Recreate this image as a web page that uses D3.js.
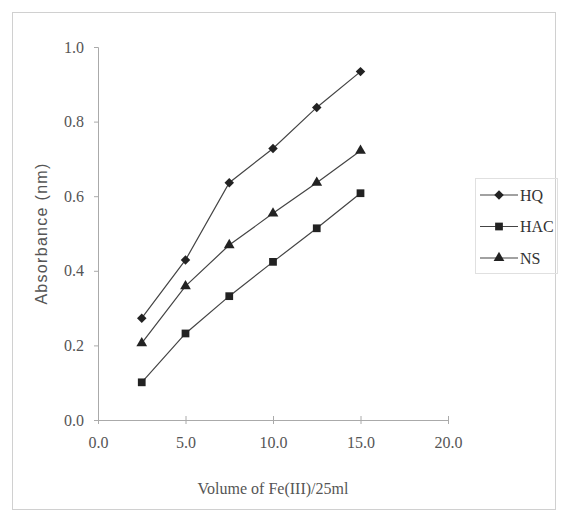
<!DOCTYPE html>
<html>
<head>
<meta charset="utf-8">
<script src="https://cdn.jsdelivr.net/npm/d3@7"></script>
<style>
  body { margin: 0; background: #fff; }
  .axis line, .axis path { stroke: #aaa; }
  .title { font-family: "Liberation Serif", "Times New Roman", serif; font-size: 16px; fill: #555; }
  .y-title { font-family: "Liberation Sans", Arial, sans-serif; font-size: 16px; letter-spacing: 1.3px; fill: #555; }
  .legend text { font-family: "Liberation Serif", "Times New Roman", serif; font-size: 16px; fill: #333; }
</style>
</head>
<body>
<div id="chart"></div>
<script>
// Données
var volumes = [2.5, 5.0, 7.5, 10.0, 12.5, 15.0];
var seriesNames = ["HQ", "HAC", "NS"];
var hq  = [0.273, 0.429, 0.636, 0.728, 0.838, 0.934];
var hac = [0.101, 0.232, 0.332, 0.424, 0.514, 0.608];
var ns  = [0.206, 0.359, 0.469, 0.554, 0.636, 0.722];
var xTicks = [0, 5, 10, 15, 20];
var yTicks = [0, 0.2, 0.4, 0.6, 0.8, 1.0];

var W = 563, H = 524;
var margin = { top: 47, left: 98, right: 115, bottom: 104 };
var width = W - margin.left - margin.right,
    height = H - margin.top - margin.bottom;

var root = d3.select("#chart").append("svg")
  .attr("width", W)
  .attr("height", H);

// cadre extérieur
root.append("rect")
  .attr("x", 12.5).attr("y", 12.5)
  .attr("width", 543).attr("height", 497)
  .attr("fill", "none")
  .attr("stroke", "#d0d0d0");

var svg = root.append("g")
  .attr("transform", "translate(" + margin.left + "," + margin.top + ")");

var x = d3.scaleLinear().domain([0, 20]).range([0, width]);
var y = d3.scaleLinear().domain([0, 1]).range([height, 0]);

var yAxis = d3.axisLeft(y)
  .tickValues(yTicks)
  .tickSize(4)
  .tickPadding(10)
  .tickFormat(d3.format(".1f"));

svg.append("g")
  .attr("class", "axis y-axis")
  .call(yAxis)
  .attr("font-family", "'Liberation Serif', 'Times New Roman', serif")
  .attr("font-size", 16);

var xAxis = d3.axisBottom(x)
  .tickValues(xTicks)
  .tickSize(4)
  .tickPadding(13)
  .tickFormat(d3.format(".1f"));

svg.append("g")
  .attr("class", "axis x-axis")
  .attr("transform", "translate(0," + height + ")")
  .call(xAxis)
  .attr("font-family", "'Liberation Serif', 'Times New Roman', serif")
  .attr("font-size", 16);

svg.selectAll(".axis text").attr("fill", "#555");

// ticks qui traversent l'axe x
svg.selectAll(".x-axis .tick line").attr("y1", -4).attr("y2", 4);

// Titres
svg.append("text")
  .attr("class", "title")
  .attr("text-anchor", "middle")
  .attr("x", x(10))
  .attr("y", height + 74)
  .text("Volume of Fe(III)/25ml");

svg.append("text")
  .attr("class", "y-title")
  .attr("text-anchor", "middle")
  .attr("transform", "translate(-51," + y(0.5) + ") rotate(-90)")
  .text("Absorbance (nm)");

// Séries
var diamond = {
  draw: function(ctx, size) {
    var r = Math.sqrt(size / 2);
    ctx.moveTo(0, -r); ctx.lineTo(r, 0); ctx.lineTo(0, r); ctx.lineTo(-r, 0); ctx.closePath();
  }
};

var series = [
  { name: seriesNames[0], values: hq,  symbol: diamond,          size: 45 },
  { name: seriesNames[1], values: hac, symbol: d3.symbolSquare,   size: 60 },
  { name: seriesNames[2], values: ns,  symbol: d3.symbolTriangle, size: 50 }
];

var line = d3.line()
  .x(function(d, i) { return x(volumes[i]); })
  .y(function(d) { return y(d); });

series.forEach(function(s) {
  svg.append("path")
    .datum(s.values)
    .attr("d", line)
    .attr("fill", "none")
    .attr("stroke", "#444")
    .attr("stroke-width", 1.2);

  svg.selectAll(".pt-" + s.name)
    .data(s.values)
    .enter().append("path")
    .attr("class", "pt-" + s.name)
    .attr("transform", function(d, i) {
      return "translate(" + x(volumes[i]) + "," + y(d) + ")";
    })
    .attr("d", d3.symbol().type(s.symbol).size(s.size))
    .attr("fill", "#222");
});

// Légende
var legend = root.append("g")
  .attr("class", "legend")
  .attr("transform", "translate(475,178)");

legend.append("rect")
  .attr("x", 0.5).attr("y", 0.5)
  .attr("width", 82).attr("height", 95)
  .attr("fill", "none")
  .attr("stroke", "#e0e0e0");

series.forEach(function(s, i) {
  var g = legend.append("g")
    .attr("transform", "translate(0," + (17 + i * 31.5) + ")");
  g.append("line")
    .attr("x1", 5).attr("x2", 43)
    .attr("stroke", "#444")
    .attr("stroke-width", 1.2);
  g.append("path")
    .attr("transform", "translate(24,0)")
    .attr("d", d3.symbol().type(s.symbol).size(s.size))
    .attr("fill", "#222");
  g.append("text")
    .attr("x", 45)
    .attr("dy", "0.35em")
    .text(s.name);
});
</script>
</body>
</html>
